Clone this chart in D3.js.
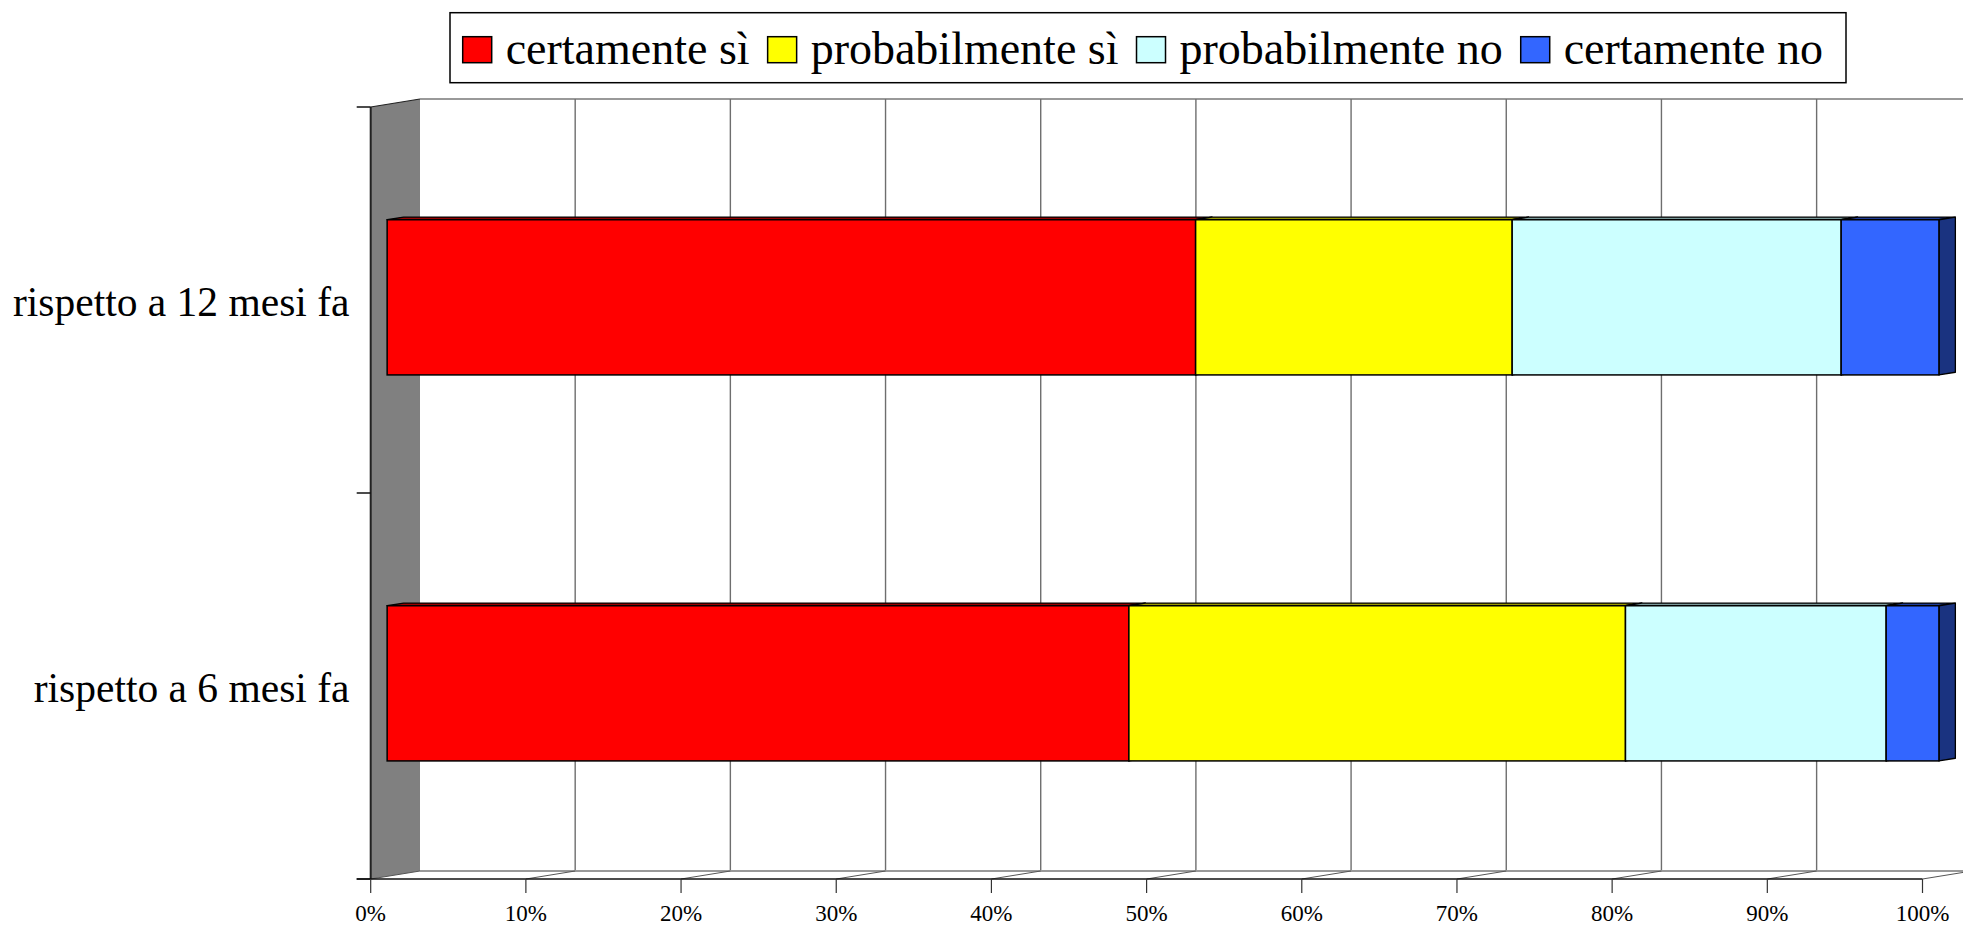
<!DOCTYPE html>
<html>
<head>
<meta charset="utf-8">
<script src="https://cdn.jsdelivr.net/npm/d3@7"></script>
<style>
  html, body { margin: 0; padding: 0; background: #fff; overflow: hidden; }
  svg text { font-family: "Liberation Serif", "Times New Roman", Times, "DejaVu Serif", serif; }
</style>
</head>
<body>
<svg id="chart" width="1963" height="928"></svg>
<script>
// ---- data ----
const categories = ["rispetto a 12 mesi fa", "rispetto a 6 mesi fa"];
const seriesNames = ["certamente sì", "probabilmente sì", "probabilmente no", "certamente no"];
const certamenteSi = [52.1, 47.8];
const probabilmenteSi = [20.4, 32.0];
const probabilmenteNo = [21.2, 16.8];
const certamenteNo = [6.3, 3.4];
const tickValues = [0, 10, 20, 30, 40, 50, 60, 70, 80, 90, 100];
const tickLabels = ["0%", "10%", "20%", "30%", "40%", "50%", "60%", "70%", "80%", "90%", "100%"];
const seriesColors = ["#FF0000", "#FFFF00", "#CCFFFF", "#3366FF"];

// ---- layout ----
const FONT = '"Liberation Serif", "Times New Roman", Times, "DejaVu Serif", serif';
const svg = d3.select("#chart");
const front = { x0: 370.7, x1: 1922.5, yTop: 107, yBot: 879 };
const depth = { dx: 49.3, dy: -8 };       // wall depth offset
const barDepthStart = 1 / 3, barDepthEnd = 2 / 3;

const x = d3.scaleLinear().domain([0, 100]).range([front.x0, front.x1]);
const y = d3.scaleBand().domain(categories).range([front.yTop, front.yBot])
  .paddingInner(0.598).paddingOuter(0.299);

const table = categories.map((c, i) => ({
  cat: c,
  s0: certamenteSi[i], s1: probabilmenteSi[i], s2: probabilmenteNo[i], s3: certamenteNo[i]
}));
const stack = d3.stack().keys(["s0", "s1", "s2", "s3"]);
const stacked = stack(table);

const wallGray = "#808080";
const gridGray = "#6e6e6e";
const pt = (a) => a.map(p => p.join(",")).join(" ");

// back wall
svg.append("rect")
  .attr("x", front.x0 + depth.dx).attr("y", front.yTop + depth.dy)
  .attr("width", front.x1 - front.x0).attr("height", front.yBot - front.yTop)
  .attr("fill", "#fff");
svg.append("line")
  .attr("x1", front.x0 + depth.dx).attr("x2", front.x1 + depth.dx + 5)
  .attr("y1", front.yTop + depth.dy).attr("y2", front.yTop + depth.dy)
  .attr("stroke", "#999").attr("stroke-width", 2);

// back vertical gridlines
svg.append("g").selectAll("line").data(tickValues.slice(1)).join("line")
  .attr("x1", d => x(d) + depth.dx).attr("x2", d => x(d) + depth.dx)
  .attr("y1", front.yTop + depth.dy).attr("y2", front.yBot + depth.dy)
  .attr("stroke", gridGray).attr("stroke-width", 1.4);

// floor
svg.append("polygon")
  .attr("points", pt([[front.x0, front.yBot], [front.x1, front.yBot],
    [front.x1 + depth.dx, front.yBot + depth.dy], [front.x0 + depth.dx, front.yBot + depth.dy]]))
  .attr("fill", "#fff");
svg.append("line")
  .attr("x1", front.x0 + depth.dx).attr("x2", front.x1 + depth.dx)
  .attr("y1", front.yBot + depth.dy).attr("y2", front.yBot + depth.dy)
  .attr("stroke", "#999").attr("stroke-width", 2);
svg.append("g").selectAll("line").data(tickValues.slice(1)).join("line")
  .attr("x1", d => x(d)).attr("y1", front.yBot)
  .attr("x2", d => x(d) + depth.dx).attr("y2", front.yBot + depth.dy)
  .attr("stroke", "#555").attr("stroke-width", 1);

// side wall (gray)
svg.append("polygon")
  .attr("points", pt([[front.x0, front.yTop], [front.x0 + depth.dx, front.yTop + depth.dy],
    [front.x0 + depth.dx, front.yBot + depth.dy], [front.x0, front.yBot]]))
  .attr("fill", wallGray);
svg.append("line")
  .attr("x1", front.x0).attr("y1", front.yTop)
  .attr("x2", front.x0 + depth.dx).attr("y2", front.yTop + depth.dy)
  .attr("stroke", "#222").attr("stroke-width", 1.2);
svg.append("line")
  .attr("x1", front.x0).attr("y1", front.yBot)
  .attr("x2", front.x0 + depth.dx).attr("y2", front.yBot + depth.dy)
  .attr("stroke", "#555").attr("stroke-width", 1);

// front axes
svg.append("line")
  .attr("x1", front.x0).attr("x2", front.x0)
  .attr("y1", front.yTop).attr("y2", front.yBot)
  .attr("stroke", "#222").attr("stroke-width", 2);
svg.append("line")
  .attr("x1", front.x0 - 14).attr("x2", front.x1)
  .attr("y1", front.yBot).attr("y2", front.yBot)
  .attr("stroke", "#111").attr("stroke-width", 1.5);
// category ticks
const catTicks = [front.yTop, (front.yTop + front.yBot) / 2, front.yBot];
svg.append("g").selectAll("line").data(catTicks).join("line")
  .attr("x1", front.x0 - 14).attr("x2", front.x0)
  .attr("y1", d => d).attr("y2", d => d)
  .attr("stroke", "#111").attr("stroke-width", 1.5);
// value ticks + labels
const xAxis = svg.append("g");
xAxis.selectAll("line").data(tickValues).join("line")
  .attr("x1", d => x(d)).attr("x2", d => x(d))
  .attr("y1", front.yBot).attr("y2", front.yBot + 14)
  .attr("stroke", "#333").attr("stroke-width", 1.2);
xAxis.selectAll("text").data(tickValues).join("text")
  .attr("x", d => x(d)).attr("y", 921)
  .attr("text-anchor", "middle").attr("font-size", 23)
  .attr("font-family", FONT)
  .attr("fill", "#000")
  .text((d, i) => tickLabels[i]);

// category labels
svg.append("g").selectAll("text").data(categories).join("text")
  .attr("x", 349.5).attr("y", d => y(d) + y.bandwidth() / 2 + 16)
  .attr("text-anchor", "end").attr("font-size", 41.5).attr("fill", "#000")
  .attr("font-family", FONT)
  .text(d => d);

// 3D bars
const bdx0 = depth.dx * barDepthStart, bdy0 = depth.dy * barDepthStart;
const bdx = depth.dx * (barDepthEnd - barDepthStart), bdy = depth.dy * (barDepthEnd - barDepthStart);
const shade = (c, k) => { const r = d3.rgb(c); return d3.rgb(r.r * k, r.g * k, r.b * k).formatHex(); };

const barsG = svg.append("g");
stacked.forEach((layer, si) => {
  layer.forEach((seg, ci) => {
    const cat = categories[ci];
    const xa = x(seg[0]) + bdx0, xb = x(seg[1]) + bdx0;
    const yt = y(cat) + bdy0, yb = y(cat) + y.bandwidth() + bdy0;
    const g = barsG.append("g");
    g.append("polygon")
      .attr("points", pt([[xa, yt], [xb, yt], [xb + bdx, yt + bdy], [xa + bdx, yt + bdy]]))
      .attr("fill", shade(seriesColors[si], 0.6)).attr("stroke", "#000").attr("stroke-width", 1.3)
      .attr("stroke-linejoin", "round");
    g.append("polygon")
      .attr("points", pt([[xb, yt], [xb + bdx, yt + bdy], [xb + bdx, yb + bdy], [xb, yb]]))
      .attr("fill", shade(seriesColors[si], 0.5)).attr("stroke", "#000").attr("stroke-width", 1.3)
      .attr("stroke-linejoin", "round");
    g.append("rect")
      .attr("x", xa).attr("y", yt).attr("width", xb - xa).attr("height", yb - yt)
      .attr("fill", seriesColors[si]).attr("stroke", "#000").attr("stroke-width", 1.5);
  });
});

// legend
const legend = svg.append("g");
legend.append("rect")
  .attr("x", 450).attr("y", 12.7).attr("width", 1396).attr("height", 70)
  .attr("fill", "#fff").attr("stroke", "#000").attr("stroke-width", 1.5);
let lx = 462.7;
seriesNames.forEach((name, i) => {
  legend.append("rect")
    .attr("x", lx).attr("y", 36.7).attr("width", 29).attr("height", 26)
    .attr("fill", seriesColors[i]).attr("stroke", "#000").attr("stroke-width", 1.5);
  const t = legend.append("text")
    .attr("x", lx + 29 + 14).attr("y", 64.3)
    .attr("font-size", 46).attr("font-family", FONT).attr("fill", "#000").text(name);
  lx = lx + 29 + 14 + t.node().getComputedTextLength() + 18;
});
</script>
</body>
</html>
